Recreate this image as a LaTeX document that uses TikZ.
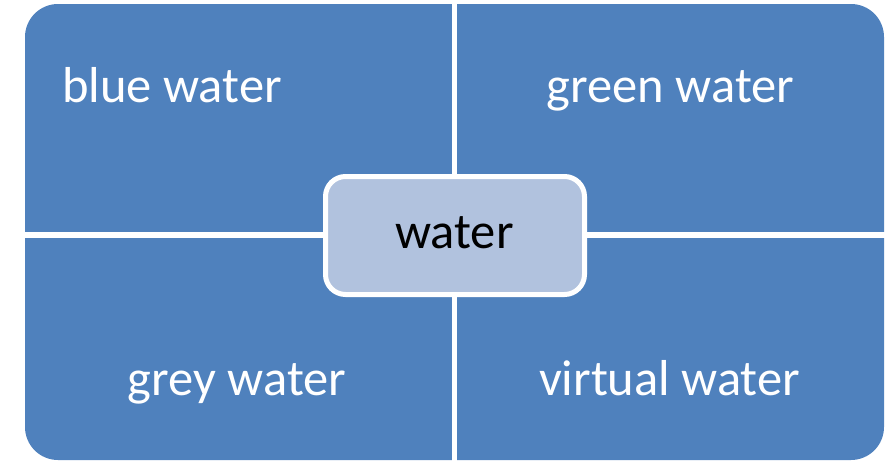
\documentclass[tikz,border=0pt]{standalone}
\usepackage{fontspec}
\setmainfont{Carlito}
\definecolor{qblue}{HTML}{4F81BD}
\definecolor{qlight}{HTML}{B1C2DE}
\begin{document}
\begin{tikzpicture}[x=1pt,y=-1pt,
  quadtext/.style={anchor=base,text=white,font=\fontsize{50.5}{60}\selectfont,inner sep=0pt},
  centerbox/.style={fill=qlight,draw=white,line width=5pt,rounded corners=20pt,
    minimum width=259pt,minimum height=118pt,inner sep=0pt,text=black}]
\useasboundingbox (0,0) rectangle (895,466);
% outer quadrants
\fill[qblue,rounded corners=33pt] (25,4) rectangle (884,460);
\fill[white] (452,0) rectangle (457,466);
\fill[white] (0,232) rectangle (895,238);
% texts
\node[quadtext] (blue) at (172,102) {blue water};
\node[quadtext] (green) at (670.5,102) {green water};
\node[quadtext] (grey) at (237,395) {grey water};
\node[quadtext] (virtual) at (669.5,395) {virtual water};
% center
\node[centerbox] (center) at (455,235.5) {};
\node[anchor=base,inner sep=0pt,font=\fontsize{50.5}{60}\selectfont] (water) at (454.5,248) {water};
\end{tikzpicture}
\end{document}
